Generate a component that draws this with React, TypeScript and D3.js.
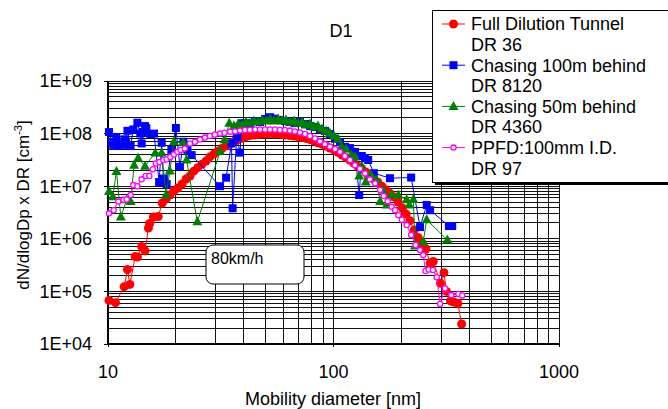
import React from 'react';
import * as d3 from 'd3';

// ---- Data ----
const fdtD = [10.1, 10.8, 11.8, 12.2, 12.5, 13.2, 13.5, 14.1, 14.6, 15.1, 15.3, 15.9, 16.7, 17.4, 18.1, 18.8, 19.6, 20.4, 21.3, 22.2, 23.1, 24.0, 25.0, 26.1, 27.2, 28.3, 29.5, 30.7, 32.0, 33.4, 34.8, 36.2, 37.8, 39.3, 40.9, 42.6, 44.4, 46.3, 48.2, 50.2, 52.3, 54.5, 56.8, 59.1, 61.5, 64.1, 66.8, 69.6, 72.5, 75.5, 78.7, 82.0, 85.3, 88.9, 92.6, 96.4, 100.5, 104.7, 109, 113.5, 118, 123, 128, 133.5, 139, 145, 151, 157, 164, 171, 178, 186, 193.5, 202, 210, 218, 228, 237, 247, 257, 268, 277, 298, 309, 317, 330, 342, 356, 370];
const fdtV = [6.7e4, 6.1e4, 1.23e5, 2.6e5, 1.36e5, 4.6e5, 4.5e5, 7.1e5, 5.9e5, 1.6e6, 1.95e6, 2.6e6, 2.65e6, 4.8e6, 5.7e6, 6.8e6, 8.1e6, 9.2e6, 1.1e7, 1.37e7, 1.56e7, 1.93e7, 2.25e7, 2.6e7, 3.0e7, 3.6e7, 4.1e7, 4.6e7, 5.2e7, 5.9e7, 6.4e7, 7.0e7, 7.7e7, 8.2e7, 8.8e7, 9.2e7, 9.4e7, 9.6e7, 9.8e7, 9.8e7, 1.0e8, 9.8e7, 9.8e7, 9.6e7, 9.4e7, 9.2e7, 9.0e7, 8.8e7, 8.4e7, 8.1e7, 7.7e7, 7.2e7, 6.7e7, 6.3e7, 5.8e7, 5.3e7, 4.9e7, 4.4e7, 3.9e7, 3.5e7, 3.15e7, 2.75e7, 2.4e7, 2.15e7, 1.86e7, 1.6e7, 1.37e7, 1.2e7, 1.0e7, 8.5e6, 7.3e6, 6.2e6, 5.0e6, 3.85e6, 2.95e6, 2.2e6, 1.47e6, 1.06e6, 8.3e5, 6.4e5, 3.45e5, 3.7e5, 1.43e5, 2.27e5, 1.0e5, 6.6e4, 6.3e4, 5.9e4, 2.4e4];

const c100D = [10.1, 10.4, 10.55, 10.7, 10.9, 11.1, 11.4, 11.7, 11.9, 12.2, 12.6, 12.95, 13.5, 13.9, 14.1, 14.25, 14.6, 14.8, 15.4, 16.0, 16.85, 17.3, 17.6, 18.2, 19.1, 20.0, 20.85, 21.6, 22.5, 23.5, 31.4, 33.4, 35.3, 35.7, 37.2, 38.5, 39.2, 40.5, 42.6, 44.9, 47.2, 49.7, 52.3, 55.0, 57.9, 60.9, 64.1, 67.4, 71.0, 74.8, 78.7, 82.8, 87.1, 91.7, 96.4, 101.6, 106.9, 112.5, 118.3, 124.5, 130, 133.5, 138, 142.5, 151, 178, 221, 242, 259, 268, 325, 336];
const c100V = [1.07e8, 7.0e7, 6.1e7, 6.5e7, 8.6e7, 5.8e7, 6.5e7, 6.1e7, 7.8e7, 1.13e8, 5.8e7, 1.2e8, 1.61e8, 1.0e8, 6.5e7, 1.07e8, 1.39e8, 1.26e8, 9.8e7, 1.0e8, 1.2e7, 6.7e7, 1.4e7, 1.1e7, 4.9e7, 1.28e8, 2.35e7, 7.0e7, 4.9e7, 3.9e7, 1.0e7, 1.45e7, 6.5e7, 3.8e6, 8.6e7, 4.35e7, 1.57e8, 1.58e8, 1.52e8, 1.73e8, 1.66e8, 1.9e8, 2.05e8, 1.92e8, 1.82e8, 1.73e8, 1.66e8, 1.58e8, 1.66e8, 1.52e8, 1.39e8, 1.33e8, 1.22e8, 1.12e8, 9.8e7, 8.0e7, 6.9e7, 5.6e7, 5.3e7, 4.5e7, 6.8e6, 3.75e7, 3.4e7, 3.15e7, 1.77e7, 1.42e7, 1.46e7, 1.67e6, 4.4e6, 3.5e6, 1.75e6, 1.75e6];

const c50D = [10.1, 10.5, 10.9, 11.4, 12.1, 12.6, 13.05, 13.6, 14.6, 16.2, 17.3, 18.1, 18.8, 19.6, 21.6, 22.3, 24.9, 31.4, 32.9, 34.5, 36.2, 37.8, 39.3, 40.9, 42.6, 44.4, 46.3, 48.2, 50.2, 52.3, 54.5, 56.8, 59.1, 61.5, 64.1, 66.8, 69.6, 72.5, 75.5, 78.7, 82.0, 85.3, 88.9, 92.6, 96.4, 100.5, 104.7, 108.6, 113.5, 120, 124.5, 130, 133.5, 139, 146.5, 155, 161, 166, 172, 181, 194, 211, 217, 226, 230, 250, 259, 320];
const c50V = [7.9e6, 6.3e6, 1.9e7, 2.6e6, 5.5e6, 5.1e6, 2.5e7, 3.4e7, 2.4e7, 4.3e7, 4.3e7, 6.8e6, 1.95e7, 7.0e7, 6.7e7, 3.15e7, 2.1e6, 4.55e7, 7.6e7, 1.57e8, 1.39e8, 1.52e8, 1.45e8, 1.66e8, 1.58e8, 1.73e8, 1.66e8, 1.82e8, 1.73e8, 1.9e8, 1.73e8, 1.9e8, 1.73e8, 1.82e8, 1.66e8, 1.73e8, 1.58e8, 1.66e8, 1.45e8, 1.52e8, 1.33e8, 1.39e8, 1.22e8, 1.12e8, 1.02e8, 9.0e7, 7.9e7, 5.6e7, 5.1e7, 3.9e7, 3.6e7, 1.56e7, 2.4e7, 1.2e7, 1.65e7, 1.31e7, 5.1e6, 8.5e6, 4.4e6, 6.8e6, 6.8e6, 5.5e6, 4.4e6, 5.6e6, 7.3e5, 8.8e5, 2.3e6, 9.5e5];

const ppfdD = [10.1, 10.6, 11.1, 11.7, 12.1, 12.6, 12.95, 13.5, 14.1, 14.7, 15.25, 15.8, 16.3, 16.9, 17.6, 18.2, 18.9, 19.6, 20.3, 21.0, 21.9, 23.1, 24.3, 25.6, 26.9, 28.3, 29.8, 31.4, 32.9, 34.8, 36.6, 38.5, 40.5, 42.6, 44.9, 47.2, 49.7, 52.3, 55.0, 57.9, 60.9, 64.1, 67.4, 71.0, 74.8, 78.7, 82.8, 87.1, 91.7, 96.4, 101.6, 106.9, 112.5, 118.3, 124.5, 131, 138, 145, 153, 161, 167, 174, 181, 187.5, 194, 201, 211, 221, 231, 242, 250, 256, 264, 276, 287, 297, 312, 333, 358, 372];
const ppfdV = [3.05e6, 3.5e6, 5.1e6, 5.5e6, 5.6e6, 6.8e6, 1.05e7, 1.0e7, 1.35e7, 1.56e7, 1.56e7, 2.1e7, 2.7e7, 2.9e7, 3.15e7, 3.25e7, 3.6e7, 4.0e7, 4.5e7, 4.9e7, 5.2e7, 6.5e7, 7.0e7, 7.7e7, 8.4e7, 9.0e7, 9.6e7, 1.0e8, 1.04e8, 1.09e8, 1.1e8, 1.14e8, 1.17e8, 1.17e8, 1.2e8, 1.2e8, 1.2e8, 1.2e8, 1.2e8, 1.17e8, 1.17e8, 1.14e8, 1.1e8, 1.05e8, 9.8e7, 9.0e7, 8.1e7, 7.1e7, 6.3e7, 5.65e7, 5.1e7, 4.5e7, 3.75e7, 3.15e7, 2.5e7, 2.15e7, 1.75e7, 1.35e7, 1.13e7, 8.5e6, 6.5e6, 5.2e6, 4.05e6, 3.5e6, 2.8e6, 2.3e6, 1.83e6, 1.18e6, 7.6e5, 6.1e5, 4.9e5, 2.44e5, 2.6e5, 2.55e5, 1.86e5, 5.75e4, 1.14e5, 8.5e4, 8.9e4, 8.4e4];

const seriesNames = ['Full Dilution Tunnel', 'Chasing 100m behind', 'Chasing 50m behind', 'PPFD:100mm I.D.'];
const seriesDR = ['DR 36', 'DR 8120', 'DR 4360', 'DR 97'];
const xTickLabels = ['10', '100', '1000'];
const yTickLabels = ['1E+04', '1E+05', '1E+06', '1E+07', '1E+08', '1E+09'];

const FONT = '"Liberation Sans", Arial, Helvetica, sans-serif';

type Kind = 'circle' | 'square' | 'triangle' | 'open';

function Marker({ kind, cx, cy, color }: { kind: Kind; cx: number; cy: number; color: string }) {
  if (kind === 'circle') return <circle cx={cx} cy={cy} r={4.5} fill={color} />;
  if (kind === 'square') return <rect x={cx - 4} y={cy - 4} width={8} height={8} fill={color} />;
  if (kind === 'triangle')
    return <path d={`M${cx},${cy - 5.5}L${cx + 5},${cy + 3.5}L${cx - 5},${cy + 3.5}Z`} fill={color} />;
  return <circle cx={cx} cy={cy} r={2.6} fill="#fff" stroke={color} strokeWidth={1.3} />;
}

export default function App() {
  const left = 108, right = 559, top = 81, bottom = 344;
  const x = d3.scaleLog().domain([10, 1000]).range([left, right]);
  const y = d3.scaleLog().domain([1e4, 1e9]).range([bottom, top]);

  const xGrid: number[] = [];
  for (const k of [10, 100]) for (let m = 1; m <= 9; m++) xGrid.push(m * k);
  xGrid.push(1000);
  const yGrid: number[] = [];
  for (const k of [1e4, 1e5, 1e6, 1e7, 1e8]) for (let m = 1; m <= 9; m++) yGrid.push(m * k);
  yGrid.push(1e9);

  const series = [
    { d: fdtD, v: fdtV, color: '#FF0000', kind: 'circle' as Kind },
    { d: c100D, v: c100V, color: '#0000FF', kind: 'square' as Kind },
    { d: c50D, v: c50V, color: '#008000', kind: 'triangle' as Kind },
    { d: ppfdD, v: ppfdV, color: '#FF00FF', kind: 'open' as Kind },
  ];

  const line = d3
    .line<[number, number]>()
    .x((p) => x(p[0]))
    .y((p) => y(p[1]));

  const xTickVals = xTickLabels.map(Number);
  const yTickVals = yTickLabels.map(Number);

  // legend rows: 8 text lines evenly spaced
  const legTop = 24, legStep = 20.6;
  const legendNameY = [0, 1, 2, 3].map((i) => legTop + legStep * 2 * i);
  const legendDRY = [0, 1, 2, 3].map((i) => legTop + legStep * (2 * i + 1));

  return (
    <svg
      width={668}
      height={409}
      style={{ position: 'absolute', left: 0, top: 0, background: '#fff' }}
      fontFamily={FONT}
    >
      <rect x={0} y={0} width={668} height={409} fill="#fff" />
      {/* grid */}
      <g shapeRendering="crispEdges">
        {yGrid.map((v, i) => (
          <line key={'yg' + i} x1={left} x2={right} y1={y(v)} y2={y(v)} stroke="#111" strokeWidth={1} />
        ))}
        {xGrid.map((v, i) => (
          <line key={'xg' + i} x1={x(v)} x2={x(v)} y1={top} y2={bottom} stroke="#111" strokeWidth={1} />
        ))}
        <line x1={left} x2={left} y1={top} y2={bottom + 1} stroke="#000" strokeWidth={1.5} />
        <line x1={left - 1} x2={right} y1={bottom} y2={bottom} stroke="#000" strokeWidth={1.5} />
        {yTickVals.map((v, i) => (
          <line key={'yt' + i} x1={left - 4} x2={left} y1={y(v)} y2={y(v)} stroke="#000" />
        ))}
        {xTickVals.map((v, i) => (
          <line key={'xt' + i} x1={x(v)} x2={x(v)} y1={bottom} y2={bottom + 3} stroke="#000" />
        ))}
      </g>

      {/* series */}
      {series.map((s, si) => {
        const pts: [number, number][] = s.d.map((d, i) => [d, s.v[i]]);
        return (
          <g key={'s' + si}>
            <path d={line(pts) || ''} fill="none" stroke={s.color} strokeWidth={1} />
            {pts.map((p, i) => (
              <Marker key={i} kind={s.kind} cx={x(p[0])} cy={y(p[1])} color={s.color} />
            ))}
          </g>
        );
      })}

      {/* tick labels */}
      {yTickVals.map((v, i) => (
        <text key={'yl' + i} x={92} y={y(v)} dy="0.35em" textAnchor="end" fontSize={18} fill="#000">
          {yTickLabels[i]}
        </text>
      ))}
      {xTickVals.map((v, i) => (
        <text key={'xl' + i} x={x(v)} y={372} dy="0.35em" textAnchor="middle" fontSize={18} fill="#000">
          {xTickLabels[i]}
        </text>
      ))}

      {/* axis titles */}
      <text x={333} y={399} dy="0.35em" textAnchor="middle" fontSize={18} fill="#000">
        Mobility diameter [nm]
      </text>
      <text transform="translate(29,205) rotate(-90)" textAnchor="middle" fontSize={17} fill="#000">
        dN/dlogDp x DR [cm<tspan dy={-7} fontSize={11}>-3</tspan>
        <tspan dy={7}>]</tspan>
      </text>

      {/* title */}
      <text x={341} y={31} dy="0.35em" textAnchor="middle" fontSize={18} fill="#000">
        D1
      </text>

      {/* annotation */}
      <rect x={206} y={245} width={98} height={39} rx={7} ry={7} fill="#fff" stroke="#000" strokeWidth={1} />
      <text x={211} y={258} dy="0.35em" fontSize={16} fill="#000">
        80km/h
      </text>

      {/* legend */}
      <rect x={435} y={13} width={240} height={172} fill="#000" />
      <rect x={432.5} y={10.5} width={240} height={172} fill="#fff" stroke="#000" strokeWidth={1} />
      {series.map((s, i) => (
        <g key={'lg' + i}>
          <line x1={442} x2={465} y1={legendNameY[i]} y2={legendNameY[i]} stroke={s.color} strokeWidth={1} />
          <Marker kind={s.kind} cx={453.5} cy={legendNameY[i]} color={s.color} />
          <text x={471} y={legendNameY[i]} dy="0.35em" fontSize={18} fill="#000">
            {seriesNames[i]}
          </text>
          <text x={471} y={legendDRY[i]} dy="0.35em" fontSize={18} fill="#000">
            {seriesDR[i]}
          </text>
        </g>
      ))}
    </svg>
  );
}
